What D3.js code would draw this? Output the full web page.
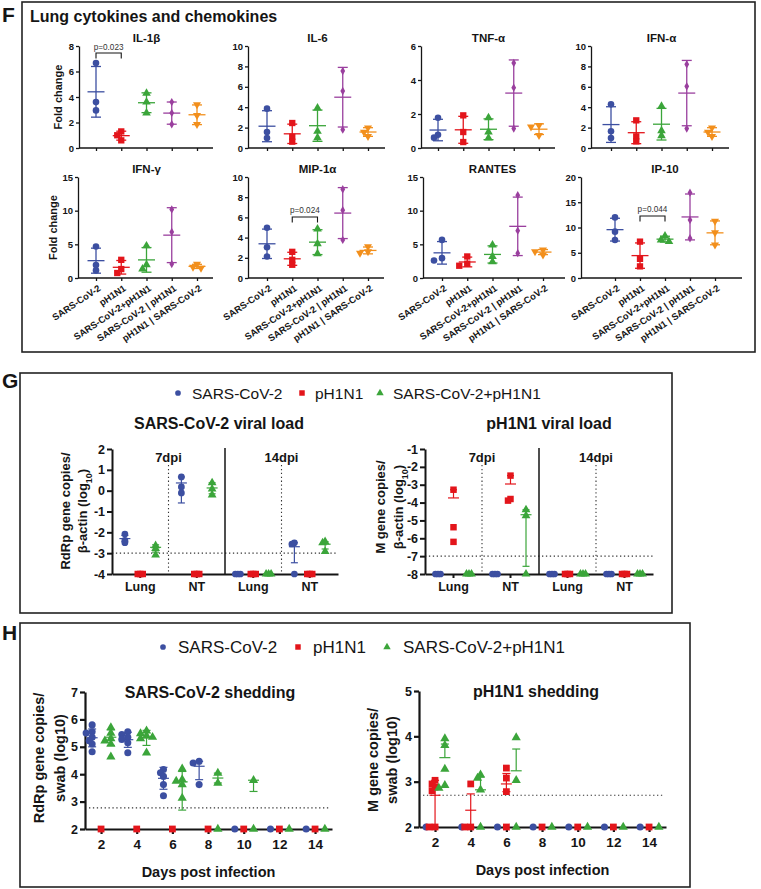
<!DOCTYPE html>
<html><head><meta charset="utf-8">
<script src="https://cdn.jsdelivr.net/npm/d3@7"></script>
<style>
body{margin:0;background:#fff;}
svg text{font-family:"Liberation Sans",Arial,Helvetica,sans-serif;}
</style></head><body>
<svg id="c" width="761" height="889"></svg>
<script>
// ---------------- DATA ----------------
const groups = ["SARS-CoV-2","pH1N1","SARS-CoV-2+pH1N1","SARS-CoV-2 | pH1N1","pH1N1 | SARS-CoV-2"];
const cytokines = ["IL-1β","IL-6","TNF-α","IFN-α","IFN-γ","MIP-1α","RANTES","IP-10"];
const cytoYMax  = [8,10,6,10,15,10,15,20];
const cytoYStep = [2,2,2,2,5,2,5,5];
// fold change, 3 animals per group (order = groups)
const il1b   = [[6.67,3.6,2.95],[1.3,1.0,0.6],[4.3,3.6,2.75],[3.6,2.75,1.86],[3.4,2.56,1.86]];
const il6    = [[3.86,1.57,0.98],[2.45,1.1,0.62],[3.92,1.63,1.01],[7.55,5.59,1.8],[1.99,1.57,1.14]];
const tnfa   = [[1.78,0.78,0.61],[1.92,0.94,0.35],[1.78,0.94,0.59],[5.0,3.55,1.14],[1.33,1.24,0.75]];
const ifna   = [[4.28,1.63,0.98],[2.71,1.14,0.65],[4.1,1.7,1.2],[8.2,6.05,1.9],[1.99,1.57,1.14]];
const ifng   = [[4.67,1.92,1.13],[2.7,1.33,0.74],[4.77,1.97,1.33],[10.18,6.84,2.07],[2.07,1.62,1.48]];
const mip1a  = [[4.98,3.05,2.13],[2.59,1.8,1.31],[4.85,3.4,2.4],[8.79,6.72,3.77],[3.11,2.62,2.46]];
const rantes = [[5.66,2.95,2.6],[3.2,2.12,1.82],[4.9,3.2,2.4],[12.3,7.03,3.69],[4.18,3.93,3.44]];
const ip10   = [[12.0,9.18,7.54],[7.2,3.8,2.3],[8.33,7.54,7.21],[16.9,11.5,7.87],[11.28,8.98,6.56]];
const pTests = [
  {cytokine:"IL-1β", a:0, b:1, text:"p=0.023", level:7.45},
  {cytokine:"MIP-1α", a:1, b:2, text:"p=0.024", level:6.04},
  {cytokine:"IP-10", a:1, b:2, text:"p=0.044", level:12.28}
];

// G: viral load in tissues (columns: 7dpi Lung, 7dpi NT, 14dpi Lung, 14dpi NT)
const viruses = ["SARS-CoV-2","pH1N1","SARS-CoV-2+pH1N1"];
const tissues = ["Lung","NT","Lung","NT"];
const dpiLabels = ["7dpi","14dpi"];
const sarsLoadTicks = [2,1,0,-1,-2,-3,-4];
const sarsLoadPts = [
  [[-2.08,-2.38,-2.5],[0.66,0.18,-0.11],[-4,-4,-4],[-2.5,-2.56,-4]],
  [[-4,-4,-4],[-4,-4,-4],[-4,-4,-4],[-4,-4,-4]],
  [[-2.64,-2.77,-3.09],[0.38,0.08,-0.2],[-4,-4,-4],[-2.45,-2.5,-2.92]]
];
const sarsLoadMean = [[-2.3,0.37,-4,-2.69],[-4,-4,-4,-4],[-2.72,0.13,-4,-2.57]];
const sarsLoadLo   = [[-2.45,-0.59,-4,-3.46],[-4,-4,-4,-4],[-2.95,-0.15,-4,-2.8]];
const sarsLoadHi   = [[-2.15,0.66,-4,-2.5],[-4,-4,-4,-4],[-2.6,0.38,-4,-2.45]];
const sarsLoadLimit = -3;
const fluLoadTicks = [-1,-2,-3,-4,-5,-6,-7,-8];
const fluLoadPts = [
  [[-8,-8,-8],[-8,-8,-8],[-8,-8,-8],[-8,-8,-8]],
  [[-3.28,-5.38,-6.2],[-2.49,-3.8,-3.89],[-8,-8,-8],[-8,-8,-8]],
  [[-8,-8,-8],[-4.4,-4.73,-8],[-8,-8,-8],[-8,-8,-8]]
];
const fluLoadMean = [[-8,-8,-8,-8],[-3.74,-2.96,-8,-8],[-8,-4.68,-8,-8]];
const fluLoadLo   = [[-8,-8,-8,-8],[-3.74,-2.96,-8,-8],[-8,-7.57,-8,-8]];
const fluLoadHi   = [[-8,-8,-8,-8],[-3.28,-2.49,-8,-8],[-8,-4.4,-8,-8]];
const fluLoadLimit = -7;

// H: shedding (days post infection)
const days = [2,4,6,8,10,12,14];
const sarsShedTicks = [2,3,4,5,6,7];
const sarsShedPts = [
  [[5.8,5.55,5.5,5.35,5.22,5.1,4.82],[5.55,5.45,5.35,5.27,5.15,4.78],[4.17,4.05,3.92,3.62,3.21],[4.47,4.41,3.62],[2],[2],[2]],
  [[2],[2],[2],[2],[2],[2],[2]],
  [[5.7,5.5,5.3,5.22,5.1,4.63],[5.58,5.48,5.4,5.35,5.3,4.78],[4.2,3.8,3.75,3.62,3.13],[4.04,3.68,2],[3.78,2],[2],[2]]
];
const sarsShedMean = [[5.33,5.26,3.85,4.29,null,null,null],[null,null,null,null,null,null,null],[5.35,5.33,3.72,3.86,3.78,null,null]];
const sarsShedLo   = [[5.0,4.98,3.45,3.8,null,null,null],[null,null,null,null,null,null,null],[5.05,5.05,2.69,3.68,3.37,null,null]];
const sarsShedHi   = [[5.65,5.53,4.25,4.47,null,null,null],[null,null,null,null,null,null,null],[5.62,5.6,4.1,4.04,3.78,null,null]];
const sarsShedLimit = 2.77;
const fluShedTicks = [2,3,4,5];
const fluShedPts = [
  [[2],[2],[2],[2],[2],[2],[2]],
  [[3.03,2.95,2.88,2.8,2,2],[2.95,2,2],[3.3,3.08,2.78,2],[2],[2],[2],[2]],
  [[3.95,3.8,3.28,2.92,2.86],[3.15,3.08,2.82,2],[3.97,3.03,2],[2],[2],[2],[2]]
];
const fluShedMean = [[null,null,null,null,null,null,null],[2.7,2.37,2.95,null,null,null,null],[3.53,2.82,3.24,null,null,null,null]];
const fluShedLo   = [[null,null,null,null,null,null,null],[2.0,2.0,2.78,null,null,null,null],[3.53,2.82,3.24,null,null,null,null]];
const fluShedHi   = [[null,null,null,null,null,null,null],[3.03,2.73,3.18,null,null,null,null],[3.83,3.1,3.72,null,null,null,null]];
const fluShedLimit = 2.7;

// ---------------- DRAWING ----------------
const svg = d3.select("#c");
const COL = ["#3c4fa1","#e3151b","#3ba53a","#9a3f9e","#f28f1c"];
const SHAPES = ["circle","square","tri","diamond","triDown"];
const INK = "#151515";
const intFmt = d => String(d);
const symType = {circle:d3.symbolCircle, square:d3.symbolSquare, tri:d3.symbolTriangle, diamond:d3.symbolDiamond, triDown:d3.symbolTriangle};
const symSize = {circle:34, square:40, tri:32, diamond:20, triDown:28};

function marker(g, type, cx, cy, color, scale){
  const s = d3.symbol().type(symType[type]).size(symSize[type]*(scale||1));
  g.append("path").attr("d", s())
    .attr("transform", `translate(${cx},${cy})` + (type==="triDown" ? " rotate(180)" : ""))
    .attr("fill", color);
}
function swarm(ys, step, minD){
  const order = ys.map((v,i)=>i).sort((a,b)=>ys[a]-ys[b]);
  const placed = []; const off = ys.map(()=>0);
  const cands = [0,-step,step,-2*step,2*step,-3*step,3*step];
  for (const i of order){
    let chosen = cands[cands.length-1];
    for (const c of cands){
      if (placed.every(p => Math.hypot(p.x-c, p.y-ys[i]) >= minD)) { chosen = c; break; }
    }
    off[i] = chosen; placed.push({x:chosen, y:ys[i]});
  }
  return off;
}
function styleAxis(sel, fs, sw){
  sel.attr("font-size", fs).attr("font-weight","bold");
  sel.selectAll("text").attr("fill", INK);
  sel.selectAll("line").attr("stroke", INK).attr("stroke-width", sw);
  sel.select(".domain").attr("stroke", INK).attr("stroke-width", sw);
}
function errBar(g, x, yM, yLo, yHi, meanW, capW, color, sw){
  if (yLo!=null && yHi!=null){
    g.append("line").attr("x1",x).attr("x2",x).attr("y1",yLo).attr("y2",yHi).attr("stroke",color).attr("stroke-width",sw);
    if (Math.abs(yLo-yM)>0.5) g.append("line").attr("x1",x-capW/2).attr("x2",x+capW/2).attr("y1",yLo).attr("y2",yLo).attr("stroke",color).attr("stroke-width",sw);
    if (Math.abs(yHi-yM)>0.5) g.append("line").attr("x1",x-capW/2).attr("x2",x+capW/2).attr("y1",yHi).attr("y2",yHi).attr("stroke",color).attr("stroke-width",sw);
  }
  if (yM!=null) g.append("line").attr("x1",x-meanW/2).attr("x2",x+meanW/2).attr("y1",yM).attr("y2",yM).attr("stroke",color).attr("stroke-width",sw);
}
function rotLabel(text, cx, cy, fs, weight){
  return svg.append("text").attr("transform",`translate(${cx},${cy}) rotate(-90)`)
    .attr("text-anchor","middle").attr("dy","0.35em").attr("font-size",fs)
    .attr("font-weight",weight||"bold").attr("fill",INK).text(text);
}

// panel frames and letters
[[22,2,733,350],[20,373,652,240],[20,623,670,264]].forEach(b=>{
  svg.append("rect").attr("x",b[0]).attr("y",b[1]).attr("width",b[2]).attr("height",b[3])
    .attr("fill","none").attr("stroke","#222").attr("stroke-width",1.6);
});
[["F",22],["G",388],["H",640]].forEach(l=>{
  svg.append("text").attr("x",2).attr("y",l[1]).attr("font-size",21).attr("font-weight","bold").attr("fill",INK).text(l[0]);
});
svg.append("text").attr("x",30).attr("y",22).attr("font-size",16).attr("font-weight","bold").attr("fill",INK)
  .text("Lung cytokines and chemokines");

// ---- Panel F ----
const cytoData = [il1b, il6, tnfa, ifna, ifng, mip1a, rantes, ip10];
const fLay = [
  {x0:79,x1:213,c0:96,c1:197,yTop:46,yBot:148},
  {x0:248,x1:385,c0:267,c1:368,yTop:46,yBot:148},
  {x0:421,x1:555,c0:438,c1:539,yTop:46,yBot:148},
  {x0:591,x1:729,c0:611,c1:712,yTop:46,yBot:148},
  {x0:78,x1:213,c0:96,c1:197,yTop:177,yBot:278},
  {x0:248,x1:384,c0:267,c1:368,yTop:177,yBot:278},
  {x0:423,x1:565,c0:442,c1:543,yTop:177,yBot:278},
  {x0:581,x1:742,c0:615,c1:715,yTop:177,yBot:278}
];
cytokines.forEach((name, k)=>{
  const L = fLay[k];
  const y = d3.scaleLinear().domain([0, cytoYMax[k]]).range([L.yBot, L.yTop]);
  const x = d3.scalePoint().domain(groups).range([L.c0, L.c1]);
  const g = svg.append("g");
  const ya = g.append("g").attr("transform",`translate(${L.x0},0)`)
    .call(d3.axisLeft(y).tickValues(d3.range(0, cytoYMax[k]+1e-9, cytoYStep[k])).tickFormat(intFmt).tickSize(3).tickPadding(2).tickSizeOuter(0));
  styleAxis(ya, 9.5, 1.3);
  const xa = g.append("g").attr("transform",`translate(0,${L.yBot})`)
    .call(d3.axisBottom(x).tickSize(3).tickSizeOuter(0));
  xa.select(".domain").remove();
  styleAxis(xa, 9.4, 1.3);
  if (k < 4) xa.selectAll("text").remove();
  else xa.selectAll("text").attr("text-anchor","end").attr("x",0).attr("y",0).attr("dy","0.35em")
        .attr("transform","translate(3,9) rotate(-34)");
  g.append("line").attr("x1",L.x0).attr("x2",L.x1).attr("y1",L.yBot).attr("y2",L.yBot).attr("stroke",INK).attr("stroke-width",1.3);
  g.append("text").attr("x",(L.c0+L.c1)/2).attr("y",L.yTop-4).attr("text-anchor","middle")
    .attr("font-size",11.5).attr("font-weight","bold").attr("fill",INK).text(name);
  if (k===0 || k===4) rotLabel("Fold change", k===0?58:53, (L.yTop+L.yBot)/2, 11);
  cytoData[k].forEach((vals, i)=>{
    const m = d3.mean(vals), sd = d3.deviation(vals);
    const cx = x(groups[i]);
    errBar(g, cx, y(m), y(m-sd), y(m+sd), 17, 10, COL[i], 1.3);
    const ys = vals.map(v=>y(v));
    const off = swarm(ys, 4, 4.8);
    ys.forEach((py, j)=> marker(g, SHAPES[i], cx+off[j], py, COL[i], 1));
  });
  pTests.filter(p=>p.cytokine===name).forEach(p=>{
    const xa1 = x(groups[p.a]), xb = x(groups[p.b]), yl = y(p.level);
    g.append("path").attr("d",`M${xa1},${yl+5.5}V${yl}H${xb}V${yl+5.5}`).attr("fill","none").attr("stroke",INK).attr("stroke-width",1.1);
    g.append("text").attr("x",(xa1+xb)/2).attr("y",yl-3.5).attr("text-anchor","middle")
      .attr("font-size",8.2).attr("fill","#333").text(p.text);
  });
});

// ---- legends ----
function legend(y, fs, items){
  items.forEach((it, i)=>{
    marker(svg, SHAPES[i], it.mx, y, COL[i], 0.75);
    svg.append("text").attr("x",it.tx).attr("y",y).attr("dy","0.36em").attr("font-size",fs).attr("fill",INK).text(viruses[i]);
  });
}
legend(393, 15.5, [{mx:178,tx:192},{mx:302,tx:315},{mx:380,tx:393}]);
legend(647, 17, [{mx:163,tx:178},{mx:298,tx:313},{mx:387,tx:403}]);

// ---- Panel G ----
function gChart(o){
  const y = d3.scaleLinear().domain([d3.min(o.ticks), d3.max(o.ticks)]).range([o.yBot, o.yTop]);
  const band = d3.scaleBand().domain([0,1,2,3]).range([o.x0, o.x1]);
  const cx = i => band(i) + band.bandwidth()/2;
  const so = band.bandwidth()*0.272;
  const g = svg.append("g");
  g.append("line").attr("x1",o.x0).attr("x2",o.x1).attr("y1",y(o.limit)).attr("y2",y(o.limit))
    .attr("stroke","#333").attr("stroke-width",1.1).attr("stroke-dasharray","1.3,2.6");
  [1,3].forEach((b, j)=>{
    g.append("line").attr("x1",band(b)).attr("x2",band(b)).attr("y1",o.yTop+16).attr("y2",o.yBot)
      .attr("stroke","#333").attr("stroke-width",1.1).attr("stroke-dasharray","1.3,2.6");
    g.append("text").attr("x",band(b)).attr("y",o.yTop+13).attr("text-anchor","middle")
      .attr("font-size",13).attr("font-weight","bold").attr("fill",INK).text(dpiLabels[j]);
  });
  g.append("line").attr("x1",band(2)).attr("x2",band(2)).attr("y1",o.yTop-1).attr("y2",o.yBot)
    .attr("stroke",INK).attr("stroke-width",1.5);
  const ya = g.append("g").attr("transform",`translate(${o.x0},0)`)
    .call(d3.axisLeft(y).tickValues(o.ticks).tickFormat(intFmt).tickSize(5).tickPadding(2).tickSizeOuter(0));
  styleAxis(ya, 12.5, 2);
  const xa = g.append("g").attr("transform",`translate(0,${o.yBot})`)
    .call(d3.axisBottom(band).tickSize(4).tickPadding(4).tickSizeOuter(0).tickFormat(i=>tissues[i]));
  styleAxis(xa, 12.5, 2);
  g.append("text").attr("x",o.titleX).attr("y",o.yTop-20).attr("text-anchor","middle")
    .attr("font-size",16).attr("font-weight","bold").attr("fill",INK).text(o.title);
  rotLabel(o.yl1, o.ylx1, o.ylcy, 13);
  const t2 = svg.append("text").attr("transform",`translate(${o.ylx2},${o.ylcy}) rotate(-90)`)
    .attr("text-anchor","middle").attr("dy","0.35em").attr("font-size",13).attr("font-weight","bold").attr("fill",INK);
  t2.append("tspan").text("β-actin (log");
  t2.append("tspan").attr("font-size",9).attr("baseline-shift","sub").text("10");
  t2.append("tspan").text(")");
  const top = svg.append("g");
  o.pts.forEach((cols, s)=>{
    cols.forEach((vals, c)=>{
      const x = cx(c) + (s-1)*so;
      errBar(g, x, y(o.mean[s][c]), y(o.lo[s][c]), y(o.hi[s][c]), 11, 7, COL[s], 1.2);
      const ys = vals.map(v=>y(v));
      const off = swarm(ys, 2.5, 2.4);
      ys.forEach((py,j)=> marker(top, SHAPES[s], x+off[j], py, COL[s], 1.05));
    });
  });
}
gChart({x0:112,x1:338,yTop:449,yBot:574,ticks:sarsLoadTicks,pts:sarsLoadPts,mean:sarsLoadMean,lo:sarsLoadLo,hi:sarsLoadHi,
  limit:sarsLoadLimit,title:"SARS-CoV-2 viral load",titleX:219,yl1:"RdRp gene copies/",ylx1:65,ylx2:82,ylcy:511});
gChart({x0:425,x1:653,yTop:449,yBot:574,ticks:fluLoadTicks,pts:fluLoadPts,mean:fluLoadMean,lo:fluLoadLo,hi:fluLoadHi,
  limit:fluLoadLimit,title:"pH1N1 viral load",titleX:549,yl1:"M gene copies/",ylx1:380,ylx2:398,ylcy:507});

// ---- Panel H ----
function hChart(o){
  const x = d3.scaleLinear().domain([1.1, 14.95]).range([o.x0, o.x1]);
  const y = d3.scaleLinear().domain([d3.min(o.ticks), d3.max(o.ticks)]).range([o.yBot, o.yTop]);
  const dayOff = [-0.5, 0, 0.55];
  const g = svg.append("g");
  g.append("line").attr("x1",o.x0+4).attr("x2",o.x1-3).attr("y1",y(o.limit)).attr("y2",y(o.limit))
    .attr("stroke","#333").attr("stroke-width",1.1).attr("stroke-dasharray","1.3,2.6");
  const ya = g.append("g").attr("transform",`translate(${o.x0},0)`)
    .call(d3.axisLeft(y).tickValues(o.ticks).tickSize(5).tickPadding(2).tickSizeOuter(0).tickFormat(intFmt));
  styleAxis(ya, 12.5, 2.2);
  const xa = g.append("g").attr("transform",`translate(0,${o.yBot})`)
    .call(d3.axisBottom(x).tickValues(days).tickFormat(intFmt).tickSize(5).tickPadding(5).tickSizeOuter(0));
  styleAxis(xa, 13.5, 2.2);
  g.append("text").attr("x",o.titleX).attr("y",o.yTop+6).attr("text-anchor","middle")
    .attr("font-size",16).attr("font-weight","bold").attr("fill",INK).text(o.title);
  g.append("text").attr("x",(o.x0+o.x1)/2).attr("y",o.yBot+48).attr("text-anchor","middle")
    .attr("font-size",14.5).attr("font-weight","bold").attr("fill",INK).text("Days post infection");
  rotLabel(o.yl1, o.ylx1, o.ylcy, 14.5);
  rotLabel("swab (log10)", o.ylx2, o.ylcy, 14.5);
  const top = svg.append("g");
  o.pts.forEach((cols, s)=>{
    cols.forEach((vals, c)=>{
      const px = x(days[c] + dayOff[s]);
      const m = o.mean[s][c];
      errBar(g, px, m==null?null:y(m), o.lo[s][c]==null?null:y(o.lo[s][c]), o.hi[s][c]==null?null:y(o.hi[s][c]), 11, 8, COL[s], 1.2);
      const ys = vals.map(v=>y(v));
      const off = swarm(ys, 3, 4.2);
      ys.forEach((py,j)=> marker(top, SHAPES[s], px+off[j], py, COL[s], 1.15));
    });
  });
}
hChart({x0:85,x1:332,yTop:692,yBot:829,ticks:sarsShedTicks,pts:sarsShedPts,mean:sarsShedMean,lo:sarsShedLo,hi:sarsShedHi,
  limit:sarsShedLimit,title:"SARS-CoV-2 shedding",titleX:210,yl1:"RdRp gene copies/",ylx1:39,ylx2:60,ylcy:758});
hChart({x0:419,x1:666,yTop:691,yBot:827,ticks:fluShedTicks,pts:fluShedPts,mean:fluShedMean,lo:fluShedLo,hi:fluShedHi,
  limit:fluShedLimit,title:"pH1N1 shedding",titleX:536,yl1:"M gene copies/",ylx1:373,ylx2:392,ylcy:760});
</script>
</body></html>
